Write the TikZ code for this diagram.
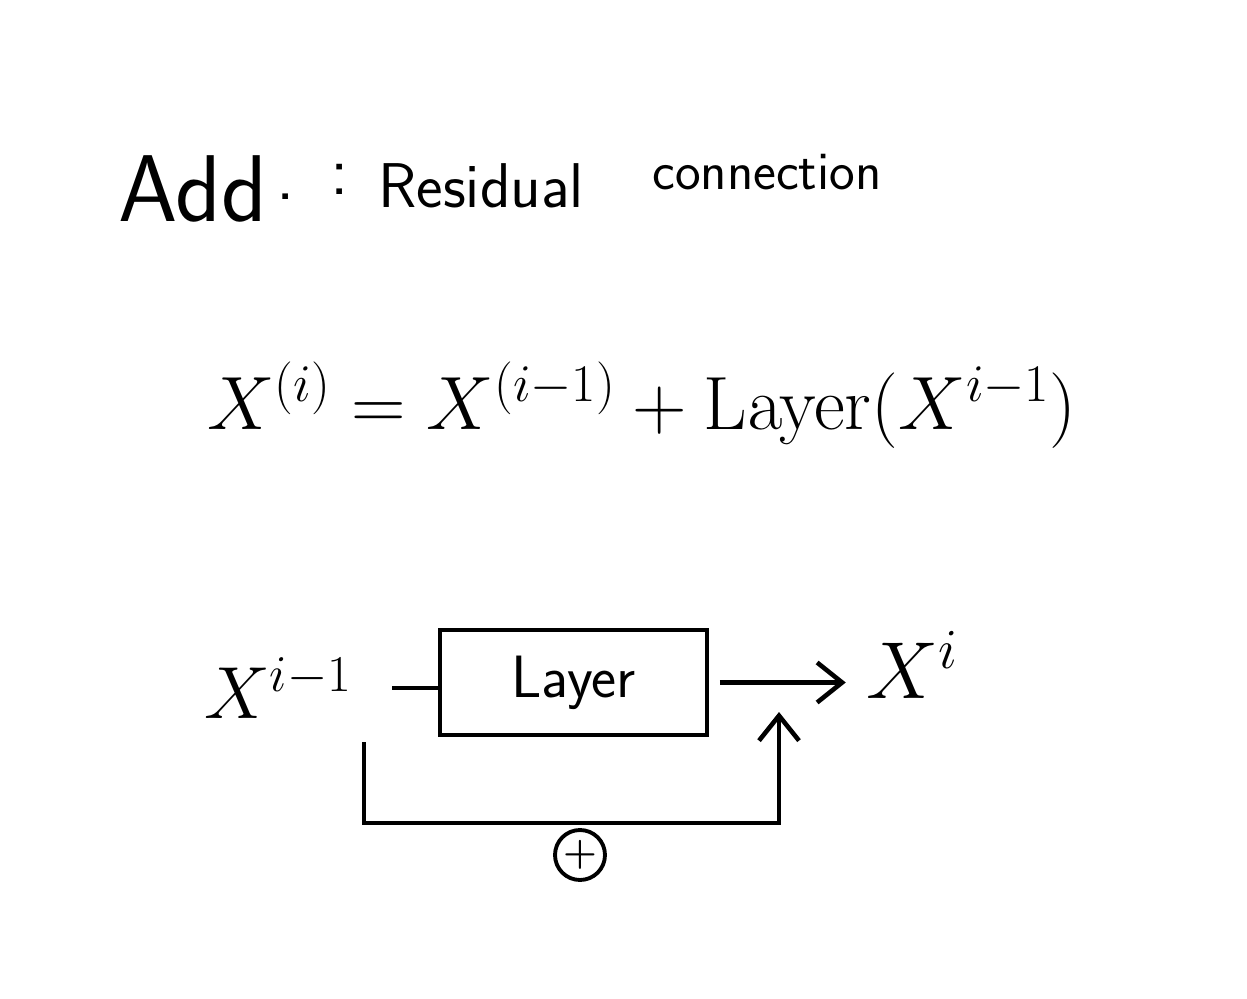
\RequirePackage{fix-cm}
\documentclass[tikz,border=0pt]{standalone}
\usepackage{amsmath}
\usetikzlibrary{arrows.meta,positioning}

\begin{document}
\begin{tikzpicture}[
    x=0.02cm, y=-0.02cm,
    title/.style={inner sep=0pt, anchor=base west, font=\sffamily},
    mathtext/.style={inner sep=0pt, font=\fontsize{42}{50}\selectfont},
    layerbox/.style={rectangle, draw, line width=2.2pt, minimum width=5.34cm, minimum height=2.1cm, font=\sffamily\fontsize{34}{40}\selectfont},
    wire/.style={line width=2.6pt},
    arrow/.style={wire, -{Straight Barb[length=0.5cm, width=0.8cm]}},
    plusnode/.style={circle, draw, line width=2.2pt, inner sep=0pt, minimum size=1cm, font=\fontsize{22}{22}\selectfont\bfseries}
]
    \useasboundingbox (0,0) rectangle (1247,999);

    % title line
    \node [title, font=\sffamily\fontsize{54}{62}\selectfont] (add) at (118,222) {Add};
    \node [title, font=\sffamily\fontsize{40}{48}\selectfont] (dot) at (276,200) {.};
    \node [title, font=\sffamily\fontsize{40}{48}\selectfont] (colon) at (330,195) {:};
    \node [title, font=\sffamily\fontsize{36}{44}\selectfont] (residual) at (378,208) {Residual};
    \node [title, font=\sffamily\fontsize{31}{38}\selectfont] (connection) at (652,190) {connection};

    % formula
    \node [inner sep=0pt, font=\fontsize{43}{52}\selectfont] (formula) at (642,405)
        {$X^{(i)} = X^{(i-1)} + \mathrm{Layer}(X^{i-1})$};

    % residual block
    \node [mathtext] (xin) at (278,688) {$X^{i-1}$};
    \node [layerbox] (layer) at (573.5,682.5) {Layer};
    \node [mathtext, font=\fontsize{46}{54}\selectfont] (xout) at (912,665) {$X^{i}$};
    \node [plusnode] (plus) at (580,855) {+};

    \coordinate (tap) at (392,688);
    \coordinate (skipstart) at (364,742);
    \coordinate (merge) at (779,712);

    \draw [wire] (tap) -- (tap -| layer.west);
    \draw [arrow, shorten <=0.22cm, shorten >=0.4cm] (layer.east) -- (layer.east -| xout.west);
    \draw [arrow] (skipstart) |- ([yshift=0.1cm]plus.north) -| (merge);
\end{tikzpicture}
\end{document}
